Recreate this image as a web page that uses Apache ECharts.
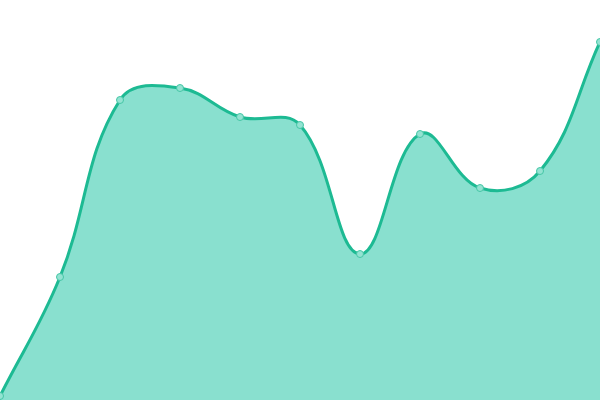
<!DOCTYPE html>
<html>
<head>
<meta charset="utf-8">
<script src="https://cdn.jsdelivr.net/npm/echarts@6/dist/echarts.min.js"></script>
<style>html,body{margin:0;padding:0;background:#fff}#c{width:600px;height:400px}</style>
</head>
<body>
<div id="c"></div>
<script>
const categories = ['1','2','3','4','5','6','7','8','9','10','11'];
const values = [4, 123, 300, 312, 283, 275, 146, 266, 212, 229, 358];

const TENSION = 0.4;

function splineControls(pts, t, area) {
  const out = [];
  const clampX = v => Math.max(area.x0, Math.min(area.x1, v));
  const clampY = v => Math.max(area.y0, Math.min(area.y1, v));
  for (let i = 0; i < pts.length; i++) {
    const cur = pts[i];
    const prev = pts[i - 1] || cur;
    const next = pts[i + 1] || cur;
    const d01 = Math.hypot(cur[0] - prev[0], cur[1] - prev[1]);
    const d12 = Math.hypot(next[0] - cur[0], next[1] - cur[1]);
    let s01 = d01 / (d01 + d12);
    let s12 = d12 / (d01 + d12);
    if (isNaN(s01)) s01 = 0;
    if (isNaN(s12)) s12 = 0;
    const fa = t * s01, fb = t * s12;
    out.push({
      prev: [clampX(cur[0] - fa * (next[0] - prev[0])), clampY(cur[1] - fa * (next[1] - prev[1]))],
      next: [clampX(cur[0] + fb * (next[0] - prev[0])), clampY(cur[1] + fb * (next[1] - prev[1]))]
    });
  }
  return out;
}

function renderCurve(params, api) {
  if (params.dataIndex !== 0) return null;
  const pts = values.map((v, i) => api.coord([i, v]));
  const base = api.coord([0, 0])[1];
  const top = api.coord([0, 400])[1];
  const left = api.coord([0, 0])[0];
  const right = api.coord([values.length - 1, 0])[0];
  const cps = splineControls(pts, TENSION, {x0: left, x1: right, y0: top, y1: base});
  let d = 'M' + pts[0][0] + ' ' + pts[0][1];
  for (let i = 1; i < pts.length; i++) {
    const a = cps[i - 1].next, b = cps[i].prev, p = pts[i];
    d += ' C' + a[0] + ' ' + a[1] + ' ' + b[0] + ' ' + b[1] + ' ' + p[0] + ' ' + p[1];
  }
  const areaD = d + ' L' + pts[pts.length - 1][0] + ' ' + base + ' L' + pts[0][0] + ' ' + base + ' Z';
  return {
    type: 'group',
    children: [
      {type: 'path', shape: {pathData: areaD}, style: {fill: '#89e0cf', stroke: null}},
      {type: 'path', shape: {pathData: d}, style: {fill: null, stroke: '#1dba93', lineWidth: 3, lineJoin: 'round'}}
    ]
  };
}

const chart = echarts.init(document.getElementById('c'));
chart.setOption({
  animation: false,
  grid: {left: 0, right: 0, top: 0, bottom: 0},
  xAxis: {type: 'category', data: categories, boundaryGap: false, show: false},
  yAxis: {type: 'value', min: 0, max: 400, show: false},
  series: [{
    type: 'custom',
    data: values.map((v, i) => [i, v]),
    renderItem: renderCurve,
    clip: false,
    silent: true,
    z: 2
  }, {
    type: 'scatter',
    data: values.map((v, i) => [i, v]),
    symbol: 'circle',
    symbolSize: 7,
    itemStyle: {color: '#93e3d2', borderColor: '#45c6a6', borderWidth: 1, opacity: 1},
    silent: true,
    z: 3
  }]
});
</script>
</body>
</html>
